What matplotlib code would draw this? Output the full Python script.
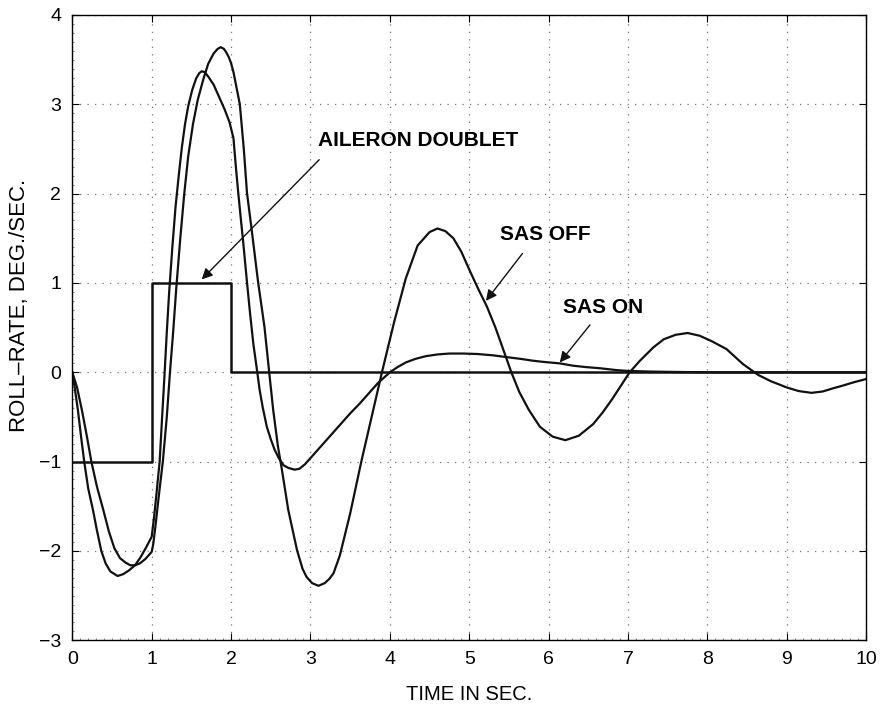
import matplotlib
matplotlib.use("Agg")
import matplotlib.pyplot as plt
from matplotlib.ticker import MultipleLocator

plt.rcParams['font.family'] = ['Liberation Sans', 'DejaVu Sans']

# Aileron doublet input
doublet_t = [0.0, 1.0, 1.0, 2.0, 2.0, 10.0]
doublet_p = [-1.0, -1.0, 1.0, 1.0, 0.0, 0.0]

# SAS ON roll-rate response
sas_on_t = [0.00, 0.035, 0.07, 0.11, 0.15, 0.20, 0.26, 0.31, 0.365, 0.42, 0.48, 0.57,
            0.64, 0.71, 0.79, 0.86, 0.93, 1.00,
            1.03, 1.06, 1.10, 1.13, 1.16, 1.19, 1.22, 1.26, 1.30, 1.34, 1.38, 1.42,
            1.46, 1.51, 1.56, 1.60, 1.63, 1.67, 1.72, 1.78, 1.85, 1.92, 1.98, 2.03,
            2.06, 2.09, 2.12, 2.15, 2.20, 2.24, 2.28, 2.33, 2.36, 2.40, 2.45, 2.50,
            2.55, 2.60, 2.66, 2.72, 2.80, 2.86, 2.93, 3.00, 3.10, 3.20, 3.30, 3.40,
            3.50, 3.62, 3.72, 3.85, 4.00, 4.10, 4.20, 4.32, 4.45, 4.60, 4.75, 4.93,
            5.10, 5.30, 5.47, 5.65, 5.80, 5.95, 6.14, 6.30, 6.45, 6.65, 6.85, 7.00,
            7.30, 7.60, 8.00, 9.00, 10.00]
sas_on_p = [0.00, -0.20, -0.42, -0.72, -1.00, -1.30, -1.54, -1.77, -2.00, -2.14, -2.23, -2.28,
            -2.26, -2.22, -2.16, -2.07, -1.96, -1.84,
            -1.62, -1.36, -1.00, -0.52, -0.05, 0.45, 0.90, 1.40, 1.85, 2.20, 2.52, 2.78,
            2.98, 3.16, 3.29, 3.35, 3.37, 3.36, 3.30, 3.22, 3.08, 2.94, 2.80, 2.62,
            2.30, 2.01, 1.74, 1.48, 1.01, 0.65, 0.32, 0.00, -0.20, -0.40, -0.61, -0.75,
            -0.87, -0.96, -1.04, -1.07, -1.09, -1.08, -1.03, -0.96, -0.86, -0.76, -0.66, -0.56,
            -0.46, -0.35, -0.25, -0.12, 0.00, 0.06, 0.11, 0.15, 0.18, 0.20, 0.21, 0.21,
            0.205, 0.19, 0.17, 0.15, 0.13, 0.115, 0.10, 0.075, 0.06, 0.045, 0.025, 0.015,
            0.008, 0.004, 0.00, 0.00, 0.00]

# SAS OFF roll-rate response
sas_off_t = [0.00, 0.06, 0.12, 0.18, 0.24, 0.31, 0.39, 0.46, 0.53, 0.60, 0.67, 0.73,
             0.79, 0.85, 0.92, 1.00,
             1.02, 1.05, 1.09, 1.14, 1.19, 1.23, 1.27, 1.31, 1.36, 1.41, 1.46, 1.52,
             1.58, 1.65, 1.71, 1.78, 1.83, 1.87, 1.91, 1.94, 1.97, 2.00, 2.03, 2.07,
             2.11, 2.16, 2.20, 2.26, 2.34, 2.42, 2.48, 2.53, 2.59, 2.64, 2.72, 2.83,
             2.90, 2.95, 3.02, 3.10, 3.18, 3.24, 3.29, 3.37, 3.50, 3.64, 3.77, 3.90,
             4.05, 4.20, 4.35, 4.50, 4.60, 4.70, 4.80, 4.90, 5.01, 5.12, 5.22, 5.33,
             5.43, 5.53, 5.63, 5.75, 5.89, 6.05, 6.21, 6.38, 6.56, 6.68, 6.80, 6.91,
             7.02, 7.15, 7.32, 7.45, 7.60, 7.75, 7.90, 8.05, 8.24, 8.45, 8.64, 8.80,
             9.00, 9.15, 9.31, 9.45, 9.58, 9.70, 9.85, 10.00]
sas_off_p = [0.00, -0.17, -0.42, -0.70, -1.00, -1.28, -1.54, -1.78, -1.97, -2.08, -2.13, -2.16,
             -2.16, -2.14, -2.09, -2.01,
             -1.92, -1.70, -1.38, -1.00, -0.50, 0.00, 0.45, 0.95, 1.50, 2.00, 2.42, 2.78,
             3.05, 3.28, 3.45, 3.57, 3.62, 3.64, 3.62, 3.58, 3.53, 3.46, 3.36, 3.18,
             3.00, 2.50, 2.01, 1.59, 1.01, 0.51, 0.00, -0.42, -0.83, -1.09, -1.54, -1.99,
             -2.20, -2.29, -2.36, -2.39, -2.36, -2.31, -2.25, -2.05, -1.58, -1.00, -0.50, 0.00,
             0.55, 1.05, 1.42, 1.57, 1.61, 1.58, 1.50, 1.35, 1.13, 0.92, 0.74, 0.50,
             0.25, 0.00, -0.22, -0.42, -0.61, -0.72, -0.76, -0.71, -0.58, -0.45, -0.30, -0.15,
             0.00, 0.13, 0.28, 0.37, 0.42, 0.44, 0.41, 0.35, 0.26, 0.09, -0.03, -0.10,
             -0.17, -0.21, -0.23, -0.215, -0.18, -0.15, -0.11, -0.075]

x_ticks = list(range(0, 11))
y_ticks = list(range(-3, 5))

fig = plt.figure(figsize=(8.83, 7.04), dpi=100)
ax = fig.add_axes([0.0819, 0.0905, 0.8991, 0.8882])

ax.plot(doublet_t, doublet_p, color='#111111', lw=1.8)
ax.plot(sas_on_t, sas_on_p, color='#111111', lw=1.6)
ax.plot(sas_off_t, sas_off_p, color='#111111', lw=1.6)

ax.set_xlim(0, 10)
ax.set_ylim(-3, 4)
ax.set_xticks(x_ticks)
ax.set_yticks(y_ticks)
ax.xaxis.set_minor_locator(MultipleLocator(0.1))
ax.yaxis.set_minor_locator(MultipleLocator(0.1))
ax.tick_params(which='major', direction='in', length=5, width=0.8, top=True, right=True,
               labelsize=14, pad=8)
ax.tick_params(which='minor', direction='in', length=1.5, width=0.5, top=False, right=False,
               color='#555555')
ax.grid(True, which='major', color='#777777', linestyle=(0, (1, 5)), linewidth=0.9)
for s in ax.spines.values():
    s.set_linewidth(1.0)

ax.set_xlabel('TIME IN SEC.', fontsize=14.5, labelpad=12)
ax.set_ylabel('ROLL–RATE, DEG./SEC.', fontsize=16, va='center')
ax.yaxis.set_label_coords(-0.067, 0.535)

ap = dict(arrowstyle='-|>', lw=1.0, color='#111111', mutation_scale=16, shrinkA=0, shrinkB=0)
ax.text(3.10, 2.60, 'AILERON DOUBLET', fontsize=15, fontweight='bold', ha='left', va='center')
ax.annotate('', xy=(1.63, 1.04), xytext=(3.11, 2.38), arrowprops=ap)
ax.text(5.39, 1.54, 'SAS OFF', fontsize=15, fontweight='bold', ha='left', va='center')
ax.annotate('', xy=(5.21, 0.80), xytext=(5.67, 1.33), arrowprops=ap)
ax.text(6.18, 0.72, 'SAS ON', fontsize=15, fontweight='bold', ha='left', va='center')
ax.annotate('', xy=(6.14, 0.11), xytext=(6.52, 0.53), arrowprops=ap)

fig.savefig('out.png', dpi=100)
